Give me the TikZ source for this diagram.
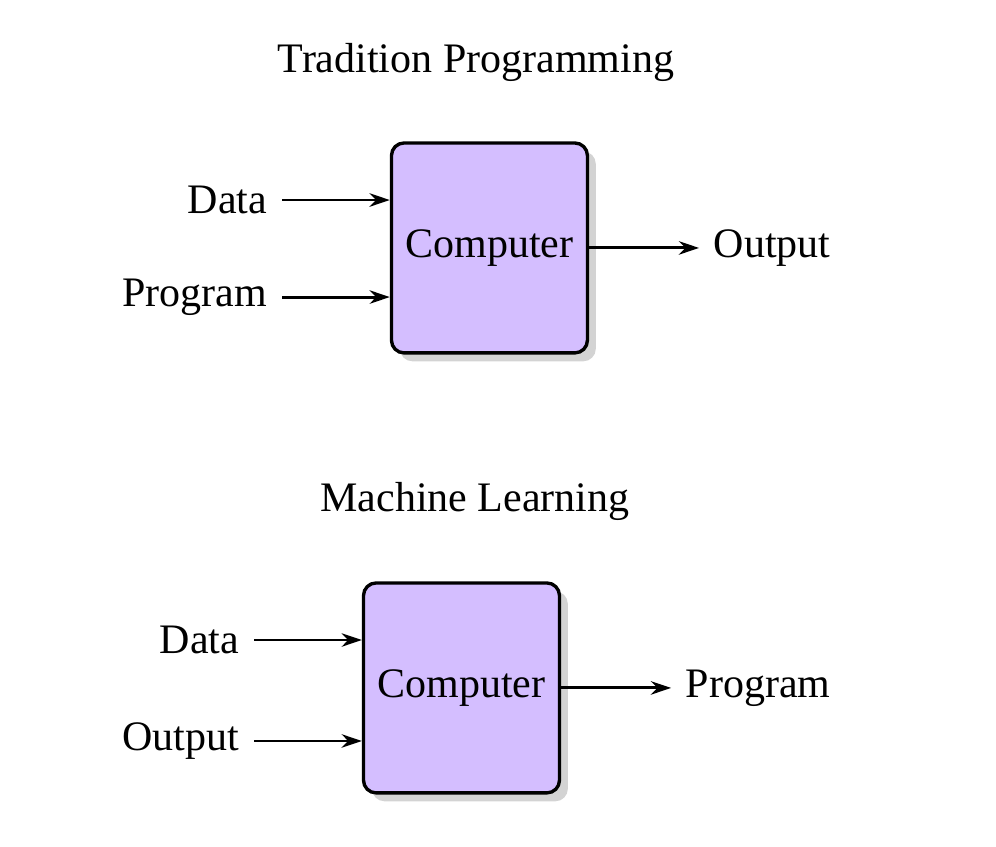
\documentclass[tikz,border=0pt]{standalone}
\usepackage{fontspec}
\setmainfont{Liberation Serif}
\usetikzlibrary{positioning}
\usetikzlibrary{arrows.meta}
\usetikzlibrary{shadows}
\definecolor{bLilac}{HTML}{D4BEFF}

\begin{document}
\begin{tikzpicture}[
  comp/.style={draw, thick, fill=bLilac, rounded corners=3pt,
    minimum width=1.632cm, minimum height=1.757cm,
    drop shadow={shadow xshift=2pt, shadow yshift=-2pt, opacity=0.35}},
  flow/.style={-{Stealth[length=4.8pt,width=3.2pt]}, line width=0.7pt}
]
  \useasboundingbox (0,0) rectangle (8.335,-7.08);

  % tradition programming
  \node (title1) at (3.983,-0.519) {Tradition Programming};
  \node[comp] (comp1) at (4.096,-2.075) {Computer};
  \node[anchor=east] (data1) at (2.36,-1.674) {Data};
  \node[anchor=east] (prog1) at (2.36,-2.486) {Program};
  \node[right=0.92cm of comp1] (out1) {Output};

  \draw[flow] (data1) -- (data1 -| comp1.west);
  \draw[flow] (prog1) -- (prog1 -| comp1.west);
  \draw[flow] (comp1) -- (out1);

  % machine learning
  \node (title2) at (3.975,-4.2) {Machine Learning};
  \node[comp] (comp2) at (3.862,-5.757) {Computer};
  \node[anchor=east] (data2) at (2.126,-5.356) {Data};
  \node[anchor=east] (out2) at (2.126,-6.201) {Output};
  \node[right=0.92cm of comp2] (prog2) {Program};

  \draw[flow] (data2) -- (data2 -| comp2.west);
  \draw[flow] (out2) -- (out2 -| comp2.west);
  \draw[flow] (comp2) -- (prog2);

\end{tikzpicture}
\end{document}
